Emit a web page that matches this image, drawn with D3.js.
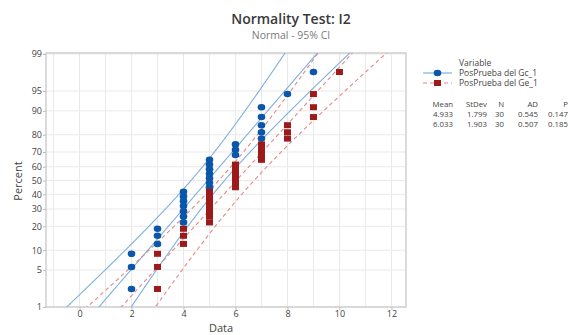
<!DOCTYPE html>
<html><head><meta charset="utf-8">
<script src="https://cdn.jsdelivr.net/npm/d3@7"></script>
<style>
html,body{margin:0;padding:0;background:#fff;}
text{font-family:"Open Sans","Noto Sans",sans-serif;}
</style></head>
<body>
<svg id="chart" width="570" height="335"></svg>
<script>
// ---- data ----
const seriesNames = ["PosPrueba del Gc_1", "PosPrueba del Ge_1"];
const gcValues = [2,2,2,3,3,3,4,4,4,4,4,4,4,5,5,5,5,5,5,5,6,6,6,7,7,7,7,7,8,9];
const geValues = [3,3,3,4,4,4,5,5,5,5,5,5,5,6,6,6,6,6,6,7,7,7,7,8,8,8,9,9,9,10];
const statMean = [4.933, 6.033];
const statStDev = [1.799, 1.903];
const statN = [30, 30];
const statAD = [0.545, 0.507];
const statP = [0.147, 0.185];
const yTickPercents = [1,5,10,20,30,40,50,60,70,80,90,95,99];
const xTickValues = [0,2,4,6,8,10,12];
const xGridValues = [-1,0,1,2,3,4,5,6,7,8,9,10,11,12];

// inverse normal CDF (Acklam)
function qnorm(p){
  const a=[-3.969683028665376e+01,2.209460984245205e+02,-2.759285104469687e+02,1.383577518672690e+02,-3.066479806614716e+01,2.506628277459239e+00];
  const b=[-5.447609879822406e+01,1.615858368580409e+02,-1.556989798598866e+02,6.680131188771972e+01,-1.328068155288572e+01];
  const c=[-7.784894002430293e-03,-3.223964580411365e-01,-2.400758277161838e+00,-2.549732539343734e+00,4.374664141464968e+00,2.938163982698783e+00];
  const d=[7.784695709041462e-03,3.224671290700398e-01,2.445134137142996e+00,3.754408661907416e+00];
  const pl=0.02425, ph=1-pl; let q,r;
  if(p<pl){q=Math.sqrt(-2*Math.log(p));return (((((c[0]*q+c[1])*q+c[2])*q+c[3])*q+c[4])*q+c[5])/((((d[0]*q+d[1])*q+d[2])*q+d[3])*q+1);}
  if(p<=ph){q=p-0.5;r=q*q;return (((((a[0]*r+a[1])*r+a[2])*r+a[3])*r+a[4])*r+a[5])*q/(((((b[0]*r+b[1])*r+b[2])*r+b[3])*r+b[4])*r+1);}
  q=Math.sqrt(-2*Math.log(1-p));return -(((((c[0]*q+c[1])*q+c[2])*q+c[3])*q+c[4])*q+c[5])/((((d[0]*q+d[1])*q+d[2])*q+d[3])*q+1);
}

const svg = d3.select("#chart");
const L=46, R=406, T=53, B=307;
const x = d3.scaleLinear().domain([-1.29, 12.56]).range([L, R]);
const zLo = qnorm(0.01), zHi = qnorm(0.99);
const y = d3.scaleLinear().domain([zLo, zHi]).range([B, 54]);

// clip
svg.append("defs").append("clipPath").attr("id","plotclip")
  .append("rect").attr("x",L).attr("y",T).attr("width",R-L).attr("height",B-T);

// grid
const grid = svg.append("g");
grid.selectAll("line.v").data(xGridValues).enter().append("line")
  .attr("x1",d=>x(d)).attr("x2",d=>x(d)).attr("y1",T).attr("y2",B)
  .attr("stroke","#e9e9e9").attr("stroke-width",1);
grid.selectAll("line.h").data(yTickPercents).enter().append("line")
  .attr("x1",L).attr("x2",R).attr("y1",d=>y(qnorm(d/100))).attr("y2",d=>y(qnorm(d/100)))
  .attr("stroke","#e9e9e9").attr("stroke-width",1);

// frame
svg.append("rect").attr("x",L).attr("y",T).attr("width",R-L).attr("height",B-T)
  .attr("fill","none").attr("stroke","#cfcfcf").attr("stroke-width",1.5);

// axes
const xAxis = d3.axisBottom(x).tickValues(xTickValues).tickSize(3).tickFormat(d3.format("d"));
const gx = svg.append("g").attr("transform",`translate(0,${B})`).call(xAxis);
gx.select(".domain").remove();
gx.selectAll(".tick line").attr("stroke","#bbb");
gx.selectAll(".tick text").attr("font-size",9).attr("fill","#444").attr("y",3).attr("dy","0.75em");

const yAxis = d3.axisLeft(y).tickValues(yTickPercents.map(p=>qnorm(p/100))).tickSize(3)
  .tickFormat((d,i)=>yTickPercents[i]);
const gy = svg.append("g").attr("transform",`translate(${L},0)`).call(yAxis);
gy.select(".domain").remove();
gy.selectAll(".tick line").attr("stroke","#bbb");
gy.selectAll(".tick text").attr("font-size",9).attr("fill","#444").attr("x",-4);

// axis labels
svg.append("text").attr("x",221).attr("y",331.5).attr("text-anchor","middle")
  .attr("font-size",11).attr("fill","#444").text("Data");
svg.append("text").attr("transform","translate(22,181) rotate(-90)").attr("text-anchor","middle")
  .attr("font-size",11).attr("fill","#444").text("Percent");

// title
svg.append("text").attr("x",291).attr("y",24).attr("text-anchor","middle")
  .attr("font-size",14).attr("font-weight",600).attr("fill","#3a3a3a").text("Normality Test: I2");
svg.append("text").attr("x",291).attr("y",38.5).attr("text-anchor","middle")
  .attr("font-size",10.5).attr("fill","#7a7a7a").text("Normal - 95% CI");

// fit and CI lines
const zs = d3.range(zLo-0.3, zHi+0.3, 0.02);
const series = [
  {vals:gcValues, mean:statMean[0], sd:statStDev[0], n:statN[0], line:"#7eb1de", dash:null, mark:"#0a56a8", shape:"circle"},
  {vals:geValues, mean:statMean[1], sd:statStDev[1], n:statN[1], line:"#e38a8a", dash:"4,3", mark:"#9c1a1a", shape:"square"}
];
const plot = svg.append("g").attr("clip-path","url(#plotclip)");
const lineGen = d3.line().x(d=>x(d[0])).y(d=>y(d[1]));
series.forEach(s=>{
  const fit = zs.map(z=>[s.mean+s.sd*z, z]);
  const se = z=>Math.sqrt(s.sd*s.sd/s.n*(1+z*z/2));
  const lo = zs.map(z=>[s.mean+s.sd*z-1.96*se(z), z]);
  const hi = zs.map(z=>[s.mean+s.sd*z+1.96*se(z), z]);
  [fit,lo,hi].forEach(pts=>{
    plot.append("path").attr("d",lineGen(pts)).attr("fill","none")
      .attr("stroke",s.line).attr("stroke-width",1.1)
      .attr("stroke-dasharray",s.dash);
  });
});
// points
series.forEach(s=>{
  const sorted = s.vals.slice().sort((a,b)=>a-b);
  const n = sorted.length;
  const pts = sorted.map((v,i)=>({v, z:qnorm((i+1-0.3)/(n+0.4))}));
  if(s.shape==="circle"){
    svg.append("g").selectAll("ellipse").data(pts).enter().append("ellipse")
      .attr("cx",d=>x(d.v)).attr("cy",d=>y(d.z)).attr("rx",3.8).attr("ry",3.3).attr("fill",s.mark);
  } else {
    svg.append("g").selectAll("rect").data(pts).enter().append("rect")
      .attr("x",d=>x(d.v)-3.5).attr("y",d=>y(d.z)-3).attr("width",7).attr("height",6).attr("fill",s.mark);
  }
});

// legend
const lg = svg.append("g");
lg.append("text").attr("x",459).attr("y",66).attr("font-size",8.5).attr("fill","#444").text("Variable");
series.forEach((s,i)=>{
  const ly = 73 + i*10;
  lg.append("line").attr("x1",423).attr("x2",452).attr("y1",ly).attr("y2",ly)
    .attr("stroke",s.line).attr("stroke-width",1.2).attr("stroke-dasharray",s.dash);
  if(s.shape==="circle") lg.append("ellipse").attr("cx",437.5).attr("cy",ly).attr("rx",3.8).attr("ry",3.3).attr("fill",s.mark);
  else lg.append("rect").attr("x",434).attr("y",ly-3).attr("width",7).attr("height",6).attr("fill",s.mark);
  lg.append("text").attr("x",459).attr("y",ly+3).attr("font-size",8.5).attr("fill","#444").text(seriesNames[i]);
});
// stats table
const cols = [
  {h:"Mean", x:453, vals:statMean.map(d=>d.toFixed(3))},
  {h:"StDev", x:487, vals:statStDev.map(d=>d.toFixed(3))},
  {h:"N", x:504, vals:statN.map(String)},
  {h:"AD", x:538, vals:statAD.map(d=>d.toFixed(3))},
  {h:"P", x:568, vals:statP.map(d=>d.toFixed(3))}
];
cols.forEach(c=>{
  lg.append("text").attr("x",c.x).attr("y",107).attr("text-anchor","end").attr("font-size",7.8).attr("fill","#444").text(c.h);
  c.vals.forEach((v,i)=>{
    lg.append("text").attr("x",c.x).attr("y",117+i*10).attr("text-anchor","end").attr("font-size",7.8).attr("fill","#444").text(v);
  });
});
</script>
</body></html>
